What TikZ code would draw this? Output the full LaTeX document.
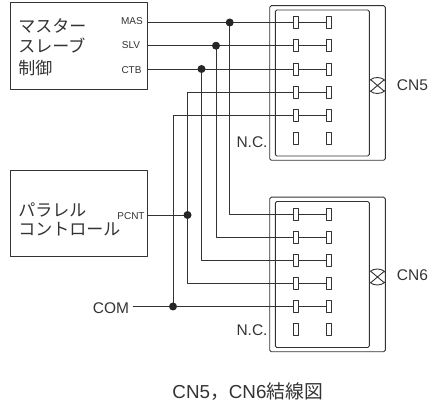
\documentclass[tikz,border=0pt]{standalone}
\usepackage{fontspec}
\setmainfont{Liberation Sans}
\newfontfamily\jpfont{Noto Sans CJK JP}
\definecolor{ink}{HTML}{333333}
\tikzset{
 block/.style={draw=ink, rectangle, inner sep=0pt, outer sep=0pt, minimum width=137pt, minimum height=86.5pt},
 pin/.style={draw=ink, fill=white, rectangle, inner sep=0pt, outer sep=0pt, minimum width=5.5pt, minimum height=12pt},
 port/.style={font=\fontsize{10}{10}\selectfont, inner sep=0pt, text=ink},
 tag/.style={font=\fontsize{15.5}{15.5}\selectfont, inner sep=0pt, text=ink},
 jptext/.style={font=\jpfont\fontsize{17}{17}\selectfont, inner sep=0pt, anchor=west, text=ink},
 wire/.style={draw=ink, line width=0.9pt},
 dot/.style={fill=black!85, draw=none, circle, minimum size=8pt, inner sep=0pt}
}
\begin{document}
\begin{tikzpicture}[x=1pt, y=-1pt, line width=0.9pt, line join=round, >=stealth]
 \useasboundingbox (0,0) rectangle (429,406);
 % blocks on the left
 \node[block, anchor=north west] (master) at (10,2.7) {};
 \node[block, anchor=north west] (parallel) at (10,170.3) {};
 \node[jptext] (t1) at (18,25.5) {マスター};
 \node[jptext] (t2) at (18,46) {スレーブ};
 \node[jptext] (t3) at (18,68) {制御};
 \node[jptext] (t4) at (18,209.5) {パラレル};
 \node[jptext] (t5) at (18,229.5) {コントロール};
 \node[port] (lmas) at (132,20.7) {MAS};
 \node[port] (lslv) at (131,45) {SLV};
 \node[port] (lctb) at (131.5,70) {CTB};
 \node[port] (lpcnt) at (131,216.5) {PCNT};
 \coordinate (pmas) at (master.east |- 0,22.5);
 \coordinate (pslv) at (master.east |- 0,45.7);
 \coordinate (pctb) at (master.east |- 0,69);
 \coordinate (ppcnt) at (parallel.east |- 0,215);
 % connectors
 \foreach \c/\dy in {a/0, b/191.5} {
  \draw[ink, rounded corners=1.5pt] (269.7,5.7+\dy) rectangle (385.3,160.3+\dy);
  \draw[ink, rounded corners=1.5pt] (275.3,10+\dy) rectangle (369.3,156+\dy);
  \foreach \r/\yy in {1/22.5, 2/45.7, 3/69, 4/92, 5/115, 6/138} {
   \node[pin] (\c l\r) at (295.7,\yy+\dy) {};
   \node[pin] (\c r\r) at (328.7,\yy+\dy) {};
  }
  \foreach \r in {1,...,5} \draw[wire] (\c l\r) -- (\c r\r);
  \begin{scope}
   \clip (369.3,70+\dy) rectangle (385.3,100+\dy);
   \draw[ink] (377.3,85.5+\dy) ellipse (10pt and 8pt);
  \end{scope}
  \draw[ink] (371,80+\dy) -- (384,91+\dy) (371,91+\dy) -- (384,80+\dy);
 }
 \node[tag] (cn5) at (412.5,85) {CN5};
 \node[tag] (cn6) at (412.5,275) {CN6};
 \node[tag, anchor=east] (nc5) at (268,141.7) {N.C.};
 \node[tag, anchor=east] (nc6) at (268,330) {N.C.};
 \node[tag, anchor=east] (com) at (129.5,308) {COM};
 % wiring
 \coordinate (ptop4) at (187.5,0 |- al4);
 \coordinate (ptop5) at (173,0 |- al5);
 \coordinate (jmas) at (229.7,0 |- al1);
 \coordinate (jslv) at (216,0 |- al2);
 \coordinate (jctb) at (201.5,0 |- al3);
 \coordinate (jpcnt) at (187.5,0 |- ppcnt);
 \coordinate (jcom) at (173,0 |- bl5);
 \coordinate (ecom) at (132.7,0 |- bl5);
 \draw[wire] (pmas) -- (al1);
 \draw[wire] (pslv) -- (al2);
 \draw[wire] (pctb) -- (al3);
 \draw[wire] (ptop4) -- (al4);
 \draw[wire] (ptop5) -- (al5);
 \draw[wire] (jmas) |- (bl1);
 \draw[wire] (jslv) |- (bl2);
 \draw[wire] (jctb) |- (bl3);
 \draw[wire] (ptop4) |- (bl4);
 \draw[wire] (ptop5) -- (jcom);
 \draw[wire] (ecom) -- (bl5);
 \draw[wire] (ppcnt) -- (jpcnt);
 \foreach \j in {jmas,jslv,jctb,jpcnt,jcom} \node[dot] (d\j) at (\j) {};
 % caption
 \node[tag, anchor=west, font=\fontsize{18.8}{18.8}\selectfont] (caption) at (172,392) {CN5{\jpfont ，}CN6{\jpfont 結線図}};
\end{tikzpicture}
\end{document}
